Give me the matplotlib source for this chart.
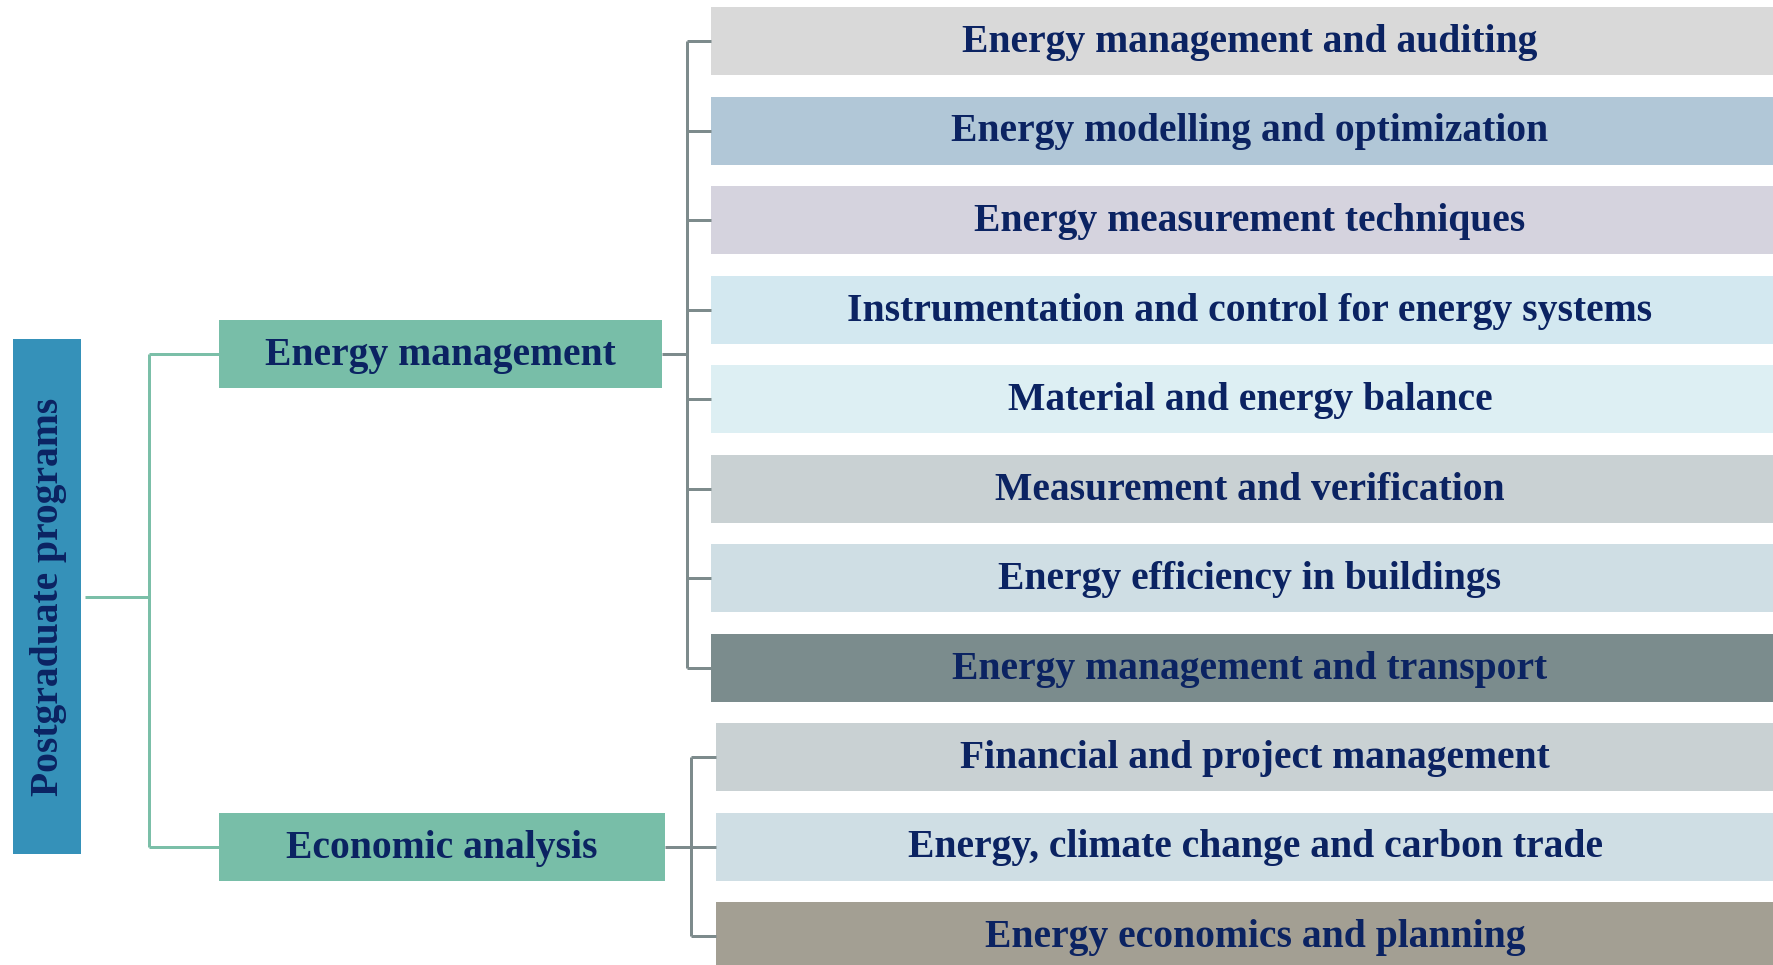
import matplotlib
matplotlib.use("Agg")
import matplotlib.pyplot as plt
from matplotlib.patches import Rectangle

# ---------------- data ----------------
root_label = "Postgraduate programs"
branch_labels = ["Energy management", "Economic analysis"]
group1_topics = [
    "Energy management and auditing",
    "Energy modelling and optimization",
    "Energy measurement techniques",
    "Instrumentation and control for energy systems",
    "Material and energy balance",
    "Measurement and verification",
    "Energy efficiency in buildings",
    "Energy management and transport",
]
group1_colors = ["#d9d9d9", "#b1c7d7", "#d5d3de", "#d3e8f0", "#ddeff3",
                 "#c9d1d3", "#cfdee4", "#7b8c8d"]
group2_topics = [
    "Financial and project management",
    "Energy, climate change and carbon trade",
    "Energy economics and planning",
]
group2_colors = ["#c9d1d3", "#cfdee4", "#a39f93"]

# ---------------- style / layout ----------------
W, H = 1773, 965
TEXT = "#0b2362"
ROOT_C = "#3591b9"
BRANCH_C = "#78bea8"
GREEN_LINE = "#7bbfa8"
GRAY_LINE = "#7d8b8c"
FONT = ["Liberation Serif", "DejaVu Serif"]

fig = plt.figure(figsize=(W / 100, H / 100), dpi=100)
ax = fig.add_axes([0, 0, 1, 1])
ax.set_xlim(0, W)
ax.set_ylim(H, 0)
ax.axis("off")

pitch, box_h, box_w = 89.5, 68, 1078
top0 = 7
lw_px = 3
lw = lw_px * 72 / 100


def box(x, y, w, h, color, label, size, rot=0, dy=1.5):
    ax.add_patch(Rectangle((x, y), w, h, facecolor=color, edgecolor="none"))
    tx, ty = x + w / 2, y + h / 2
    if rot:
        tx += dy
    else:
        ty += dy
    ax.text(tx, ty, label, ha="center", va="center",
            rotation=rot, color=TEXT, fontsize=size, fontweight="bold",
            family=FONT)


def line(xs, ys, c):
    ax.plot(xs, ys, color=c, lw=lw, solid_capstyle="butt",
            solid_joinstyle="miter")


# right topic boxes
centers1 = []
for i, (t, c) in enumerate(zip(group1_topics, group1_colors)):
    y = top0 + i * pitch
    box(711, y, box_w, box_h, c, t, 28.5)
    centers1.append(y + box_h / 2)
centers2 = []
n1 = len(group1_topics)
for j, (t, c) in enumerate(zip(group2_topics, group2_colors)):
    y = top0 + (n1 + j) * pitch
    box(716, y, box_w, box_h, c, t, 28.5)
    centers2.append(y + box_h / 2)

# branch boxes
em_y, ea_y = 320, 813
box(219, em_y, 443, 68, BRANCH_C, branch_labels[0], 28.5)
box(219, ea_y, 446, 68, BRANCH_C, branch_labels[1], 28.5)
em_c, ea_c = em_y + 34, ea_y + 34

# root box
root_y0, root_y1 = 339, 854
box(13, root_y0, 68, root_y1 - root_y0, ROOT_C, root_label, 28.5, rot=90)
root_c = (root_y0 + root_y1) / 2

# green connectors
line([85, 149], [root_c, root_c], GREEN_LINE)
line([149, 149], [em_c, ea_c], GREEN_LINE)
line([149, 219], [em_c, em_c], GREEN_LINE)
line([149, 219], [ea_c, ea_c], GREEN_LINE)

# gray connectors group 1
sx1 = 687
line([662, sx1], [em_c, em_c], GRAY_LINE)
line([sx1, sx1], [centers1[0], centers1[-1]], GRAY_LINE)
for cy in centers1:
    line([sx1, 711], [cy, cy], GRAY_LINE)

# gray connectors group 2
sx2 = 691
line([665, sx2], [ea_c, ea_c], GRAY_LINE)
line([sx2, sx2], [centers2[0], centers2[-1]], GRAY_LINE)
for cy in centers2:
    line([sx2, 716], [cy, cy], GRAY_LINE)

fig.savefig("out.png", dpi=100, facecolor="white")
